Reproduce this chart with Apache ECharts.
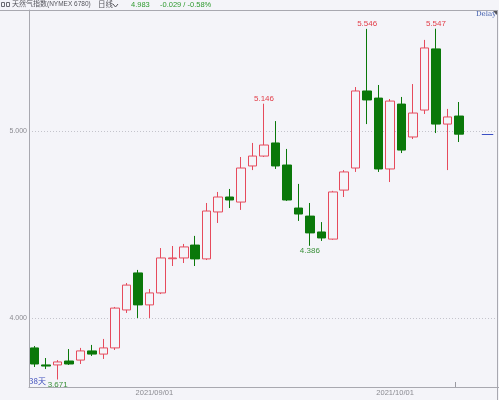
<!DOCTYPE html>
<html>
<head>
<meta charset="utf-8">
<script src="https://cdn.jsdelivr.net/npm/echarts@6/dist/echarts.min.js"></script>
<style>
  html, body { margin: 0; padding: 0; background: #f4f4f9; }
  #chart { width: 499px; height: 400px; }
</style>
</head>
<body>
<div id="chart"></div>
<script>
// Daily bars of the natural gas index (NYMEX 6780)
const tradeDates = [
  '2021/08/18','2021/08/19','2021/08/20','2021/08/23','2021/08/24','2021/08/25','2021/08/26','2021/08/27','2021/08/30','2021/08/31',
  '2021/09/01','2021/09/02','2021/09/03','2021/09/07','2021/09/08','2021/09/09','2021/09/10','2021/09/13','2021/09/14','2021/09/15',
  '2021/09/16','2021/09/17','2021/09/20','2021/09/21','2021/09/22','2021/09/23','2021/09/24','2021/09/27','2021/09/28','2021/09/29',
  '2021/09/30','2021/10/01','2021/10/04','2021/10/05','2021/10/06','2021/10/07','2021/10/08','2021/10/11'
];
// empty slots kept on the right side of the axis
const spareDates = ['2021/10/12','2021/10/13','2021/10/14'];

const openPrices  = [3.840,3.749,3.749,3.770,3.775,3.824,3.807,3.840,4.043,4.241,4.070,4.134,4.317,4.321,4.390,4.316,4.567,4.647,4.620,4.813,
                     4.866,4.936,4.818,4.588,4.545,4.460,4.422,4.684,4.802,5.214,5.176,4.797,5.144,4.968,5.112,5.439,5.037,5.080];
const closePrices = [3.754,3.743,3.765,3.754,3.824,3.807,3.840,4.053,4.176,4.070,4.134,4.321,4.321,4.380,4.316,4.572,4.647,4.631,4.802,4.866,
                     4.925,4.813,4.631,4.556,4.455,4.428,4.674,4.781,5.214,5.166,4.797,5.160,4.898,5.096,5.444,5.037,5.075,4.983];
const lowPrices   = [3.738,3.727,3.671,3.749,3.754,3.797,3.781,3.829,4.027,4.000,4.000,4.128,4.278,4.294,4.278,4.310,4.508,4.588,4.578,4.791,
                     4.861,4.797,4.626,4.519,4.386,4.412,4.418,4.647,4.781,5.037,4.781,4.727,4.882,4.957,5.091,4.989,4.791,4.941];
const highPrices  = [3.850,3.786,3.775,3.834,3.840,3.856,3.888,4.059,4.187,4.257,4.155,4.374,4.385,4.396,4.439,4.615,4.674,4.690,4.861,4.936,
                     5.146,5.053,4.904,4.717,4.615,4.513,4.680,4.791,5.235,5.546,5.246,5.171,5.182,5.251,5.487,5.547,5.118,5.155];

// swing points annotated with their price
const swingHighIdx = [20, 29, 35];
const swingLowIdx  = [2, 24];

// price axis labels
const yTickValues = [4, 5];
// dates shown under the axis
const labeledDates = ['2021/09/01', '2021/10/01'];

const headerName = '天然气指数';
const headerCode = '(NYMEX 6780)';
const headerPeriod = '日线';
const lastPrice = 4.983;
const headerChange = '-0.029 / -0.58%';

const UP = '#e64a5c';
const DOWN = '#0a780a';
const UP_TEXT = '#e23d48';
const DOWN_TEXT = '#3a903a';

const candles = openPrices.map((o, i) => [o, closePrices[i], lowPrices[i], highPrices[i]]);
const categories = tradeDates.concat(spareDates);

const markPoints = []
  .concat(swingHighIdx.map(i => ({
    coord: [i, highPrices[i]], value: highPrices[i],
    label: { position: 'top', distance: 1, color: UP_TEXT }
  })))
  .concat(swingLowIdx.map(i => ({
    coord: [i, lowPrices[i]], value: lowPrices[i],
    label: { position: 'bottom', distance: 1, color: DOWN_TEXT }
  })));

const chart = echarts.init(document.getElementById('chart'), null, { renderer: 'canvas' });

chart.setOption({
  backgroundColor: '#f4f4f9',
  animation: false,
  grid: { left: 29, top: 10, width: 471.5, height: 377, containLabel: false },
  xAxis: {
    type: 'category',
    data: categories,
    boundaryGap: true,
    axisLine: { show: true, lineStyle: { color: '#a8a8b0', width: 1 } },
    axisTick: { show: false },
    splitLine: { show: false },
    axisLabel: {
      interval: (idx, val) => labeledDates.indexOf(val) >= 0,
      color: '#8a8a90',
      fontSize: 7.5,
      fontFamily: 'Liberation Sans',
      margin: 2,
      padding: [0, 0, 0, 10]
    }
  },
  yAxis: {
    type: 'value',
    min: 3.631,
    max: 5.647,
    position: 'left',
    axisLine: { show: true, lineStyle: { color: '#a8a8b0', width: 1 } },
    axisTick: { show: false, customValues: yTickValues },
    splitLine: { show: true, lineStyle: { color: '#c4c4cc', type: [1, 2], width: 1 } },
    axisLabel: {
      customValues: yTickValues,
      formatter: v => v.toFixed(3),
      color: '#8a8a90',
      fontSize: 7,
      fontFamily: 'Liberation Sans',
      margin: 2
    }
  },
  series: [{
    type: 'candlestick',
    data: candles,
    barWidth: 9,
    itemStyle: {
      color: '#f4f4f9',
      color0: DOWN,
      borderColor: UP,
      borderColor0: DOWN,
      borderWidth: 1
    },
    markPoint: {
      symbol: 'circle',
      symbolSize: 0,
      silent: true,
      label: {
        show: true,
        fontSize: 8,
        fontFamily: 'Liberation Sans',
        formatter: p => Number(p.value).toFixed(3)
      },
      data: markPoints
    },
    markLine: {
      silent: true,
      symbol: 'none',
      label: { show: false },
      lineStyle: { color: '#3b4fc4', type: 'solid', width: 1 },
      data: [[{ coord: [39, lastPrice] }, { coord: [40, lastPrice] }]]
    }
  }],
  graphic: [
    // frame
    { type: 'line', shape: { x1: 0, y1: 10.5, x2: 498, y2: 10.5 }, style: { stroke: '#a8a8b0', lineWidth: 1 }, z: 10 },
    { type: 'line', shape: { x1: 497.5, y1: 10, x2: 497.5, y2: 400 }, style: { stroke: '#a8a8b0', lineWidth: 1 }, z: 10 },
    { type: 'polygon', shape: { points: [[493, 11], [497, 11], [497, 15]] }, style: { fill: '#55555c' }, z: 11 },
    { type: 'line', shape: { x1: 455.5, y1: 382, x2: 455.5, y2: 387 }, style: { stroke: '#9a9aa2', lineWidth: 1 }, z: 10 },
    // header
    { type: 'rect', shape: { x: 1.5, y: 2.5, width: 3, height: 4 }, style: { fill: 'none', stroke: '#6a6a72', lineWidth: 1 } },
    { type: 'rect', shape: { x: 6.5, y: 2.5, width: 3, height: 4 }, style: { fill: 'none', stroke: '#6a6a72', lineWidth: 1 } },
    { type: 'text', left: 12, top: 0, style: { text: headerName, fill: '#55555c', font: '7px "Noto Sans CJK SC"' } },
    { type: 'text', left: 47, top: 1, style: { text: headerCode, fill: '#55555c', font: '6.5px "Liberation Sans"' } },
    { type: 'text', left: 98, top: 0, style: { text: headerPeriod, fill: '#55555c', font: '7.5px "Noto Sans CJK SC"' } },
    { type: 'polyline', shape: { points: [[113, 4], [115.5, 7], [118, 4]] }, style: { stroke: '#55555c', lineWidth: 1, fill: 'none' } },
    { type: 'text', left: 131, top: 1, style: { text: lastPrice.toFixed(3), fill: '#2f9a2f', font: '7.5px "Liberation Sans"' } },
    { type: 'text', left: 160, top: 1, style: { text: headerChange, fill: '#2f9a2f', font: '7.5px "Liberation Sans"' } },
    { type: 'text', left: 476, top: 11, style: { text: 'Delay', fill: '#3a58aa', font: '7px "DejaVu Serif"' } },
    // bar count
    { type: 'text', left: 29, top: 377, style: { text: candles.length + '天', fill: '#3d4dbb', font: '8px "Noto Sans CJK SC"' } }
  ]
});
</script>
</body>
</html>
